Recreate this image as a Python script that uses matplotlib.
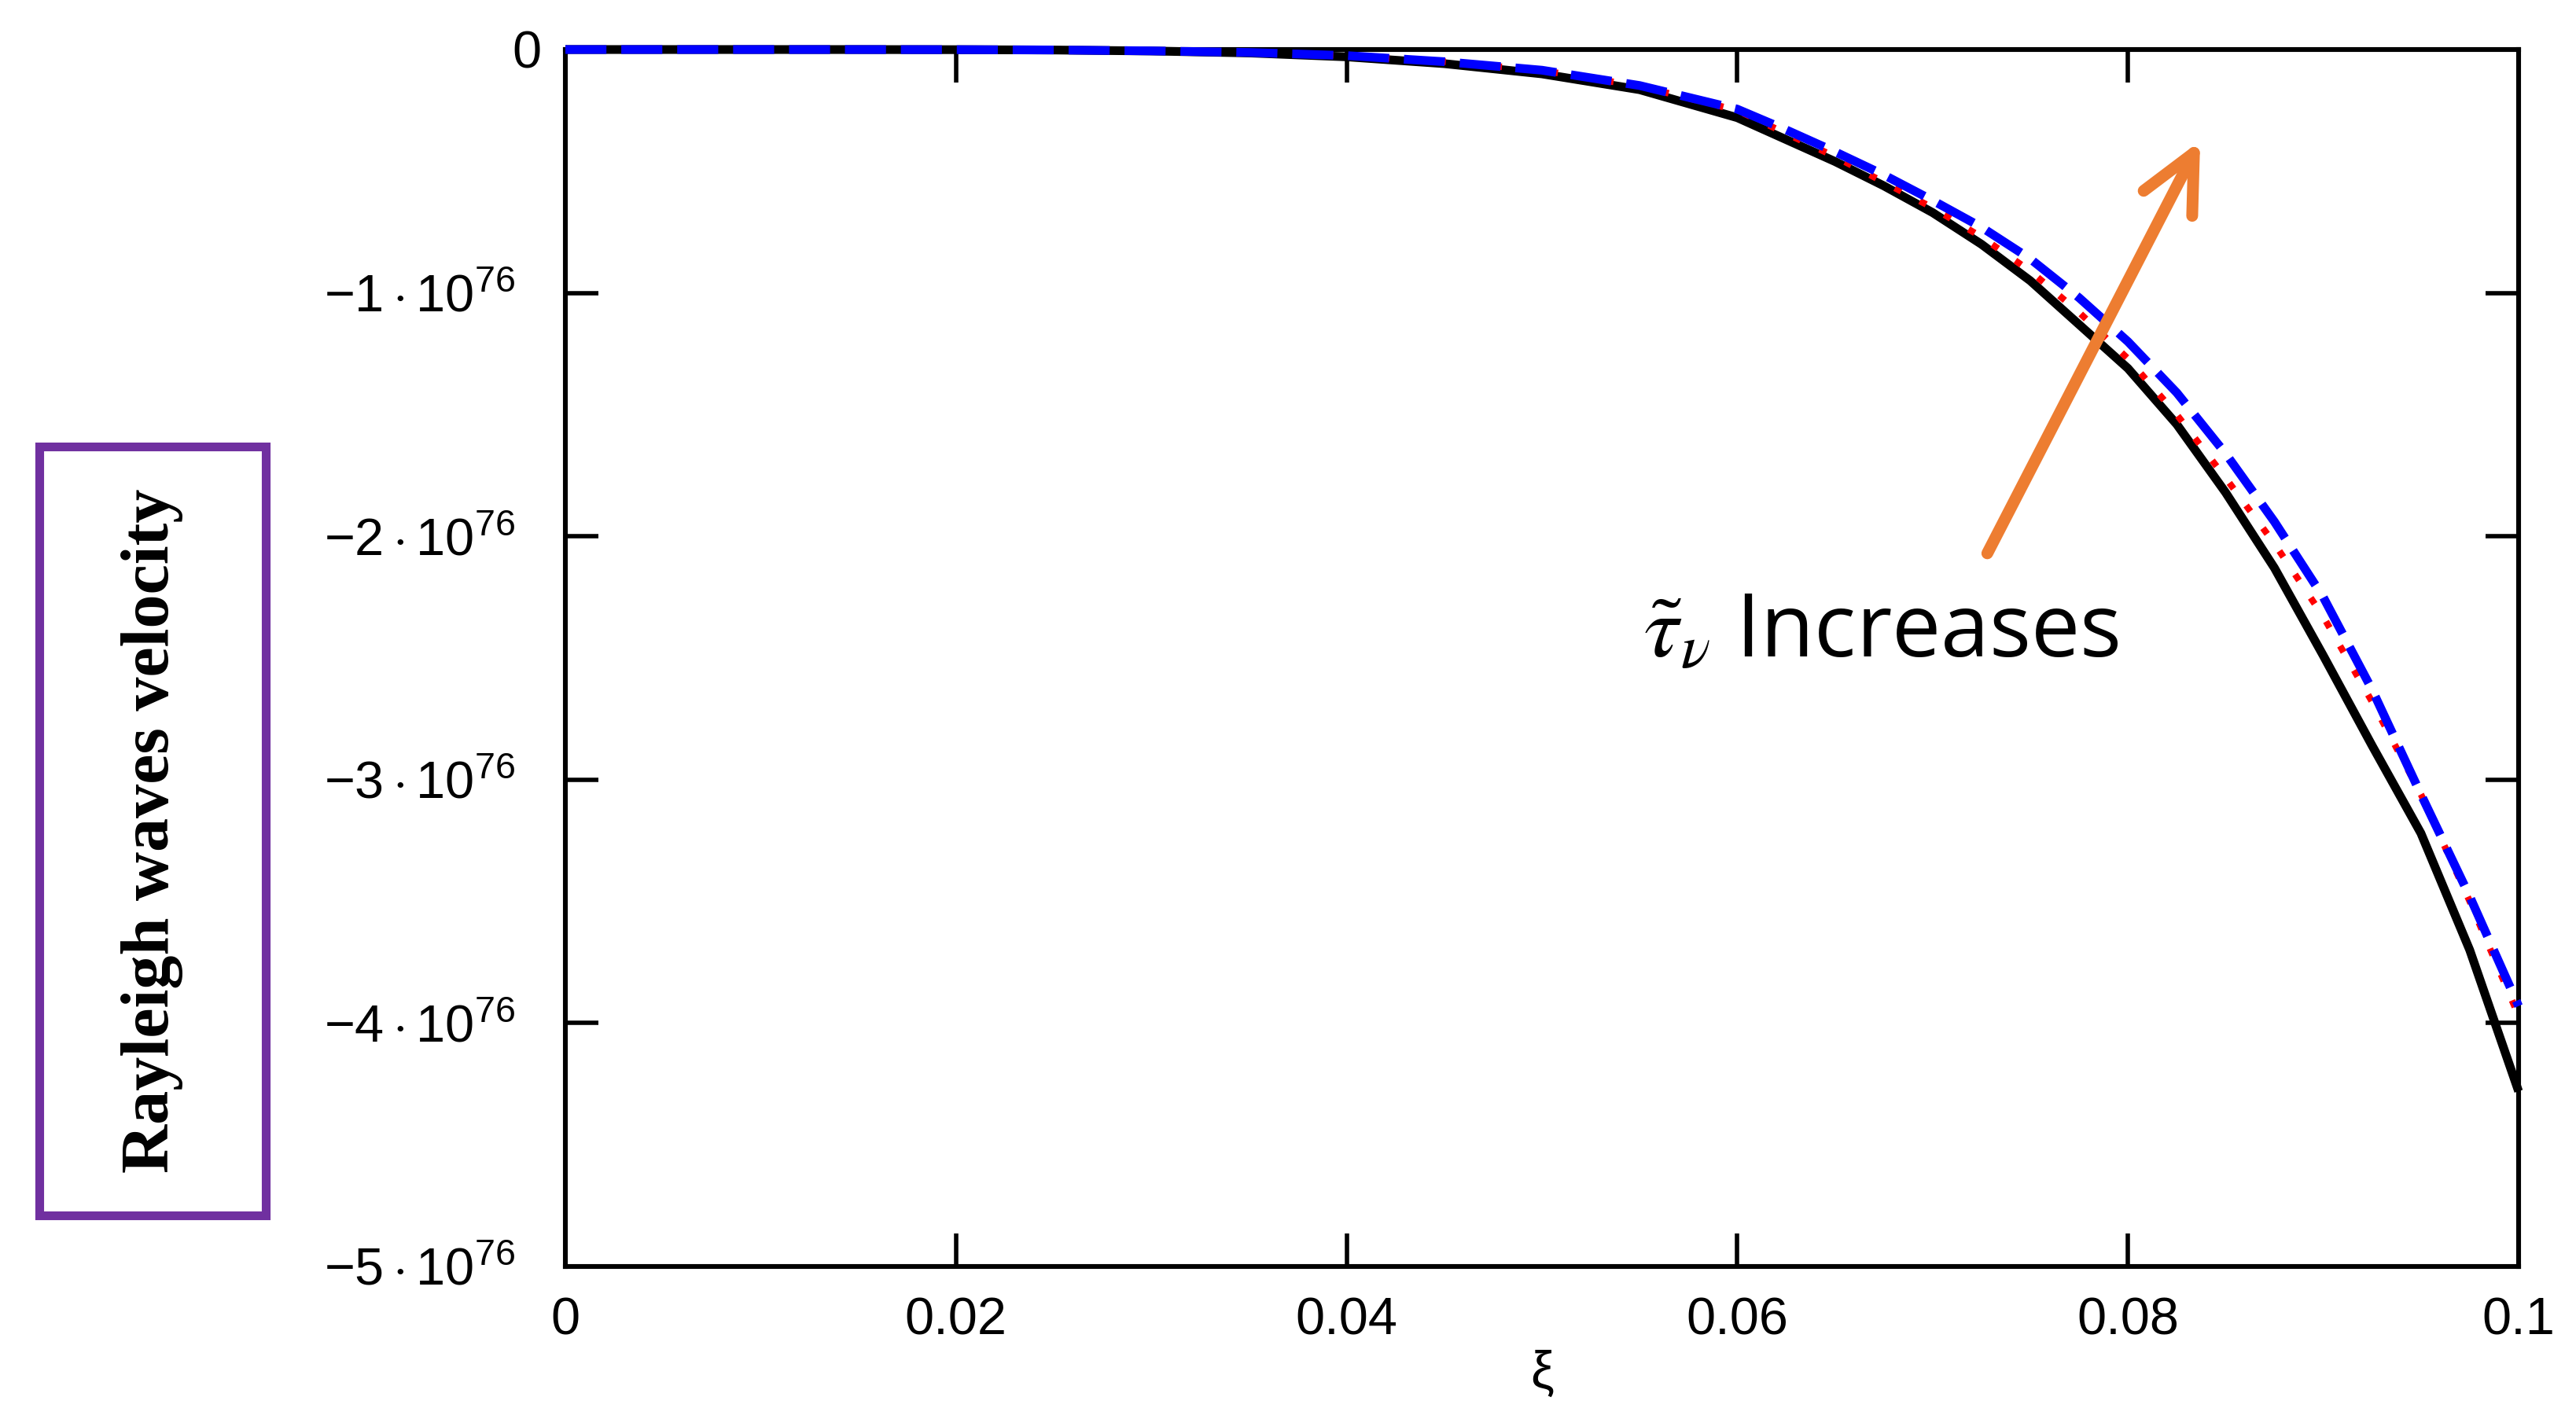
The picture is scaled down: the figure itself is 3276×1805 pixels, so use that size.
import matplotlib
matplotlib.use("Agg")
import matplotlib.pyplot as plt
from matplotlib.patches import Rectangle
from matplotlib.transforms import ScaledTranslation

# ---- data ----
xi = [0.0, 0.005, 0.01, 0.015, 0.02, 0.025, 0.03, 0.035, 0.04, 0.045, 0.05, 0.055,
      0.06, 0.0625, 0.065, 0.0675, 0.07, 0.0725, 0.075, 0.0775, 0.08, 0.0825,
      0.085, 0.0875, 0.09, 0.0925, 0.095, 0.0975, 0.1]
SCALE = 1e76
black_vals = [0, 0, 0, -0.0001, -0.0006, -0.002, -0.006, -0.014, -0.03, -0.058, -0.10, -0.165,
              -0.28, -0.37, -0.46, -0.56, -0.67, -0.80, -0.95, -1.13, -1.31, -1.54,
              -1.82, -2.13, -2.49, -2.86, -3.22, -3.70, -4.28]
red_vals = [0, 0, 0, -0.0001, -0.0005, -0.0018, -0.0055, -0.012, -0.025, -0.05, -0.086, -0.15,
            -0.25, -0.345, -0.44, -0.545, -0.65, -0.77, -0.91, -1.08, -1.27, -1.50,
            -1.76, -2.03, -2.33, -2.68, -3.06, -3.50, -3.97]
blue_vals = [0, 0, 0, -0.0001, -0.0005, -0.0018, -0.0055, -0.012, -0.025, -0.05, -0.085, -0.148,
             -0.245, -0.33, -0.42, -0.515, -0.62, -0.73, -0.86, -1.02, -1.20, -1.41,
             -1.66, -1.94, -2.25, -2.63, -3.06, -3.48, -3.93]

xticks = [0, 0.02, 0.04, 0.06, 0.08, 0.1]
xtick_labels = ["0", "0.02", "0.04", "0.06", "0.08", "0.1"]
yticks = [0, -1, -2, -3, -4, -5]
ytick_labels = ["0",
                r"$-1\cdot10^{76}$",
                r"$-2\cdot10^{76}$",
                r"$-3\cdot10^{76}$",
                r"$-4\cdot10^{76}$",
                r"$-5\cdot10^{76}$"]
ylabel_text = "Rayleigh waves velocity"
xlabel_text = "ξ"
annot_text = r"$\tilde{\tau}_{\nu}$ Increases"

TICK_FONT = ["Liberation Sans", "DejaVu Sans"]
TICK_SIZE = 24
plt.rcParams["mathtext.fontset"] = "custom"
plt.rcParams["mathtext.rm"] = "Liberation Sans"
plt.rcParams["mathtext.it"] = "Liberation Sans:italic"
plt.rcParams["mathtext.bf"] = "Liberation Sans:bold"

fig = plt.figure(figsize=(16.38, 9.025), dpi=200)
ax = fig.add_axes([0.21947, 0.10748, 0.75824, 0.85762])

ax.plot(xi, [v * SCALE for v in black_vals], color="black", lw=4.0,
        solid_capstyle="butt", solid_joinstyle="round", zorder=3, clip_on=False)
ax.plot(xi, [v * SCALE for v in red_vals], color="red", lw=3.0,
        linestyle=(0, (1.1, 3.2)), dash_capstyle="butt", zorder=4, clip_on=False)
ax.plot(xi, [v * SCALE for v in blue_vals], color="blue", lw=4.0,
        linestyle=(0, (4.7, 1.7)), dash_capstyle="butt", zorder=5, clip_on=False)

ax.set_xlim(0, 0.1)
ax.set_ylim(-5 * SCALE, 0)

ax.set_xticks(xticks)
ax.set_xticklabels(xtick_labels)
ax.set_yticks([v * SCALE for v in yticks])
ax.set_yticklabels(ytick_labels)

ax.tick_params(axis="both", direction="in", length=15, width=2.0,
               top=True, right=True, colors="black")
ax.tick_params(axis="x", pad=14)
ax.tick_params(axis="y", pad=11)
for sp in ax.spines.values():
    sp.set_linewidth(2.2)
    sp.set_color("black")

for lab in ax.get_xticklabels() + ax.get_yticklabels():
    lab.set_fontfamily(TICK_FONT)
    lab.set_fontsize(TICK_SIZE)
    lab.set_color("black")

# the power-of-ten labels sit further left than the "0" label
for i, tick in enumerate(ax.yaxis.get_major_ticks()):
    if i > 0:
        lab = tick.label1
        lab.set_transform(lab.get_transform() +
                          ScaledTranslation(-12.0 / 72, 0, fig.dpi_scale_trans))

# x label
fig.text(0.5986, 0.0316, xlabel_text, ha="center", va="center",
         fontsize=TICK_SIZE, family=TICK_FONT)

# y label in purple box
fig.patches.append(Rectangle((0.01526, 0.1435), 0.0879, 0.5418,
                             transform=fig.transFigure, facecolor="white",
                             edgecolor="#7030A0", lw=4, zorder=1))
fig.text(0.0592, 0.4144, ylabel_text, rotation=90, ha="center", va="center",
         fontsize=31, family=["Liberation Serif", "DejaVu Serif"], weight="bold",
         zorder=2)

# annotation arrow + text
ax.annotate("", xy=(0.0837, -0.375 * SCALE), xytext=(0.0728, -2.07 * SCALE),
            arrowprops=dict(arrowstyle="->,head_length=2.6,head_width=1.25",
                            mutation_scale=10, color="#ED7D31", lw=5.4,
                            shrinkA=0, shrinkB=0, capstyle="round",
                            joinstyle="round"),
            zorder=6)
ax.text(0.0552, -2.40 * SCALE, annot_text, fontsize=40, family="Open Sans",
        math_fontfamily="stix", ha="left", va="center", zorder=7)

fig.savefig("out.png", dpi=200, facecolor="white")
